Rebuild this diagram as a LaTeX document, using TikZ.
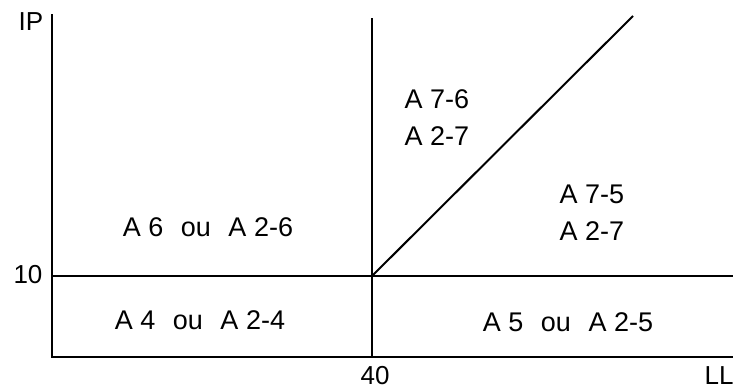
\documentclass[tikz,border=0pt]{standalone}
\usepackage{fontspec}
\setmainfont{Liberation Sans}
\usetikzlibrary{positioning}

\newcommand{\gap}{\hspace{10pt}}

\begin{document}
\begin{tikzpicture}[x=1pt,y=-1pt,line width=2pt,
  zone/.style={font=\fontsize{27}{37}\selectfont,align=left,inner sep=0pt},
  axlabel/.style={font=\fontsize{26}{30}\selectfont,inner sep=0pt}]
  \useasboundingbox (0,0) rectangle (735,389);
  % axes and limits
  \coordinate (O) at (52,357);
  \coordinate (Ytop) at (52,14);
  \coordinate (Xend) at (733,357);
  \coordinate (Y10) at (52,276);
  \coordinate (R10) at (733,276);
  \coordinate (C) at (372,276);
  \coordinate (X40) at (372,357);
  \coordinate (Vtop) at (372,18);
  \coordinate (Dtop) at (633,16);
  \draw (Ytop) -- (O) -- (Xend);
  \draw (Y10) -- (R10);
  \draw (X40) -- (Vtop);
  \draw (C) -- (Dtop);
  % labels
  \node[axlabel] (IP) at (31,22) {IP};
  \node[axlabel] (ten) at (28,275) {10};
  \node[axlabel] (forty) at (375,376) {40};
  \node[axlabel] (LL) at (719,376) {LL};
  \node[zone] (A6) at (208,227) {A 6\gap{} ou\gap{} A 2-6};
  \node[zone] (A4) at (200,320) {A 4\gap{} ou\gap{} A 2-4};
  \node[zone] (A76) at (437,118) {A 7-6\\A 2-7};
  \node[zone] (A75) at (592,213) {A 7-5\\A 2-7};
  \node[zone] (A5) at (568,322) {A 5\gap{} ou\gap{} A 2-5};
\end{tikzpicture}
\end{document}
